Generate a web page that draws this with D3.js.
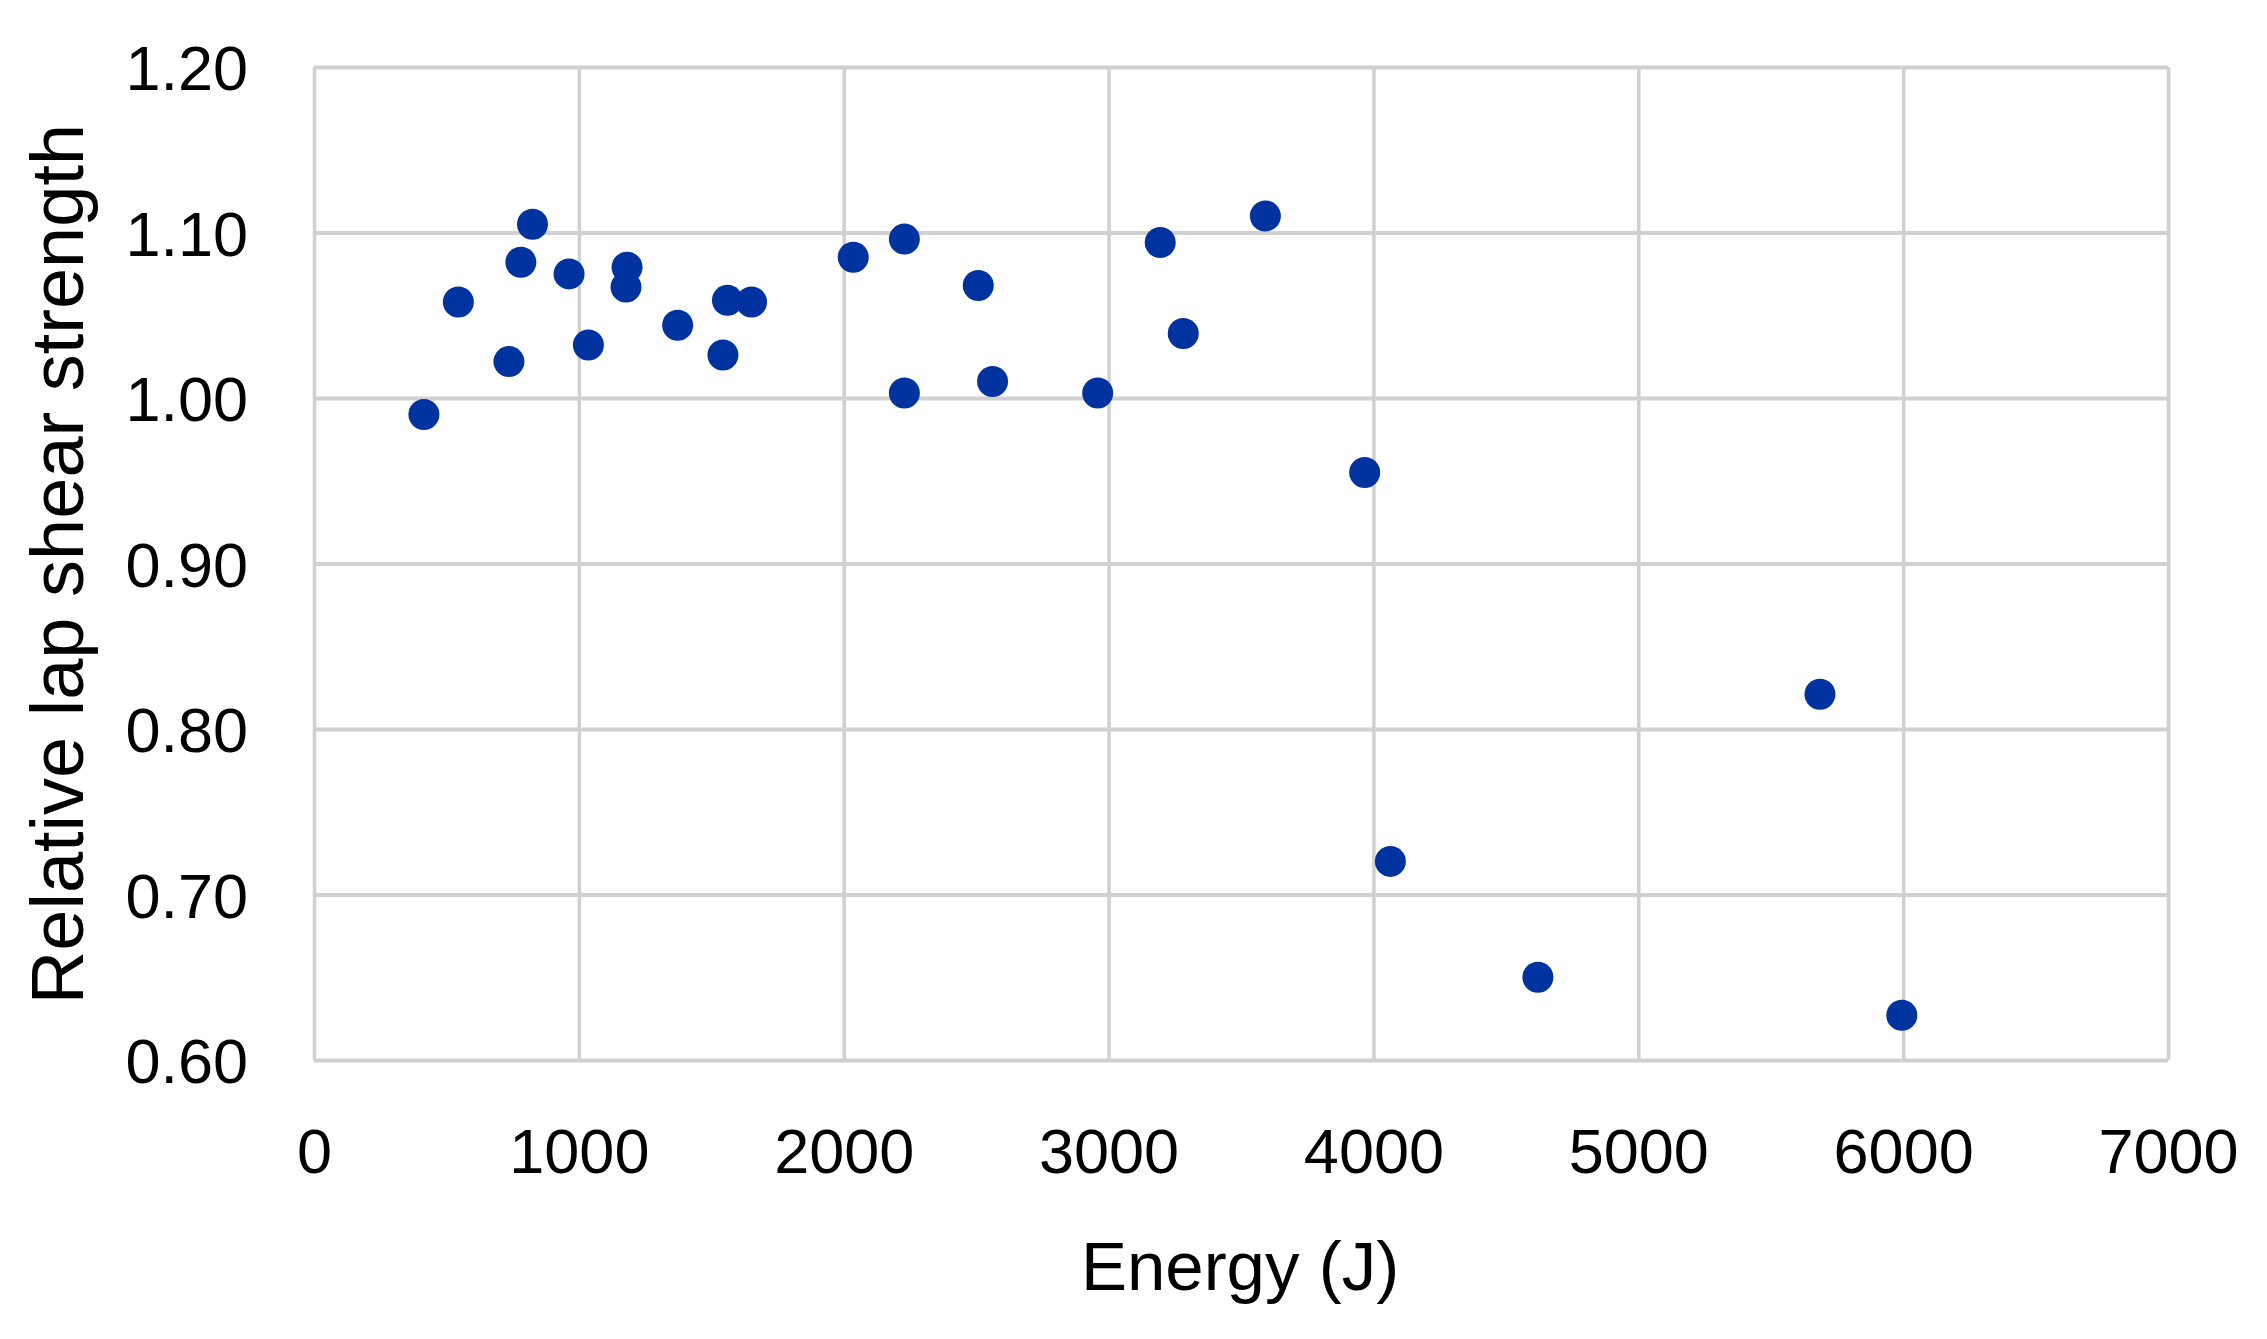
<!DOCTYPE html>
<html>
<head>
<meta charset="utf-8">
<script src="https://cdn.jsdelivr.net/npm/d3@7"></script>
<style>
  html, body { margin: 0; padding: 0; background: #ffffff; }
  svg { display: block; }
</style>
</head>
<body>
<svg id="chart" width="2267" height="1339"></svg>
<script>
// Data
const energy = [415, 545, 736, 781, 825, 963, 1036, 1182, 1178, 1373,
                1544, 1561, 1652, 2036, 2229, 2229, 2508, 2562, 2959, 3195,
                3282, 3592, 3967, 4064, 4621, 5686, 5995];
const strength = [0.990, 1.058, 1.022, 1.082, 1.105, 1.075, 1.032, 1.079, 1.067, 1.044,
                  1.026, 1.059, 1.058, 1.085, 1.096, 1.003, 1.068, 1.010, 1.003, 1.094,
                  1.039, 1.110, 0.955, 0.720, 0.650, 0.821, 0.627];
const xTicks = [0, 1000, 2000, 3000, 4000, 5000, 6000, 7000];
const yTicks = [0.60, 0.70, 0.80, 0.90, 1.00, 1.10, 1.20];
const xTitle = "Energy (J)";
const yTitle = "Relative lap shear strength";

const svg = d3.select("#chart");
const plot = { left: 314, right: 2168, top: 67, bottom: 1060 };

const x = d3.scaleLinear().domain([0, 7000]).range([plot.left, plot.right]);
const y = d3.scaleLinear().domain([0.60, 1.20]).range([plot.bottom, plot.top]);

const gridColor = "#d0d0d0";
const font = "'Liberation Sans', Arial, sans-serif";

// Horizontal gridlines (via axis)
const yGrid = svg.append("g")
  .attr("transform", `translate(${plot.left},0)`)
  .call(d3.axisLeft(y).tickValues(yTicks).tickSize(-(plot.right - plot.left)).tickFormat(""));
yGrid.select(".domain").remove();
yGrid.selectAll("line").attr("stroke", gridColor).attr("stroke-width", 4);

// Vertical gridlines (via axis)
const xGrid = svg.append("g")
  .attr("transform", `translate(0,${plot.bottom})`)
  .call(d3.axisBottom(x).tickValues(xTicks).tickSize(-(plot.bottom - plot.top)).tickFormat(""));
xGrid.select(".domain").remove();
xGrid.selectAll("line").attr("stroke", gridColor).attr("stroke-width", 3.5);

// Y tick labels
const yAxis = svg.append("g")
  .attr("transform", `translate(${plot.left},0)`)
  .call(d3.axisLeft(y).tickValues(yTicks).tickSize(0).tickPadding(66).tickFormat(d3.format(".2f")));
yAxis.select(".domain").remove();
yAxis.selectAll("text")
  .attr("font-family", font).attr("font-size", 63).attr("fill", "#000")
  .attr("dy", "0.36em");

// X tick labels
const xAxis = svg.append("g")
  .attr("transform", `translate(0,${plot.bottom})`)
  .call(d3.axisBottom(x).tickValues(xTicks).tickSize(0).tickPadding(0).tickFormat(d3.format("d")));
xAxis.select(".domain").remove();
xAxis.selectAll("text")
  .attr("font-family", font).attr("font-size", 63).attr("fill", "#000")
  .attr("y", 0).attr("dy", 0)
  .attr("transform", "translate(0,113)");

// Points
svg.append("g").selectAll("circle")
  .data(energy.map((e, i) => [e, strength[i]]))
  .join("circle")
  .attr("cx", d => x(d[0]))
  .attr("cy", d => y(d[1]))
  .attr("r", 15.5)
  .attr("fill", "#0033a0");

// Axis titles
svg.append("text")
  .attr("x", 1240).attr("y", 1290)
  .attr("text-anchor", "middle")
  .attr("font-family", font).attr("font-size", 69).attr("fill", "#000")
  .text(xTitle);

svg.append("text")
  .attr("transform", "translate(83,564) rotate(-90)")
  .attr("text-anchor", "middle")
  .attr("font-family", font).attr("font-size", 74).attr("fill", "#000")
  .text(yTitle);
</script>
</body>
</html>
